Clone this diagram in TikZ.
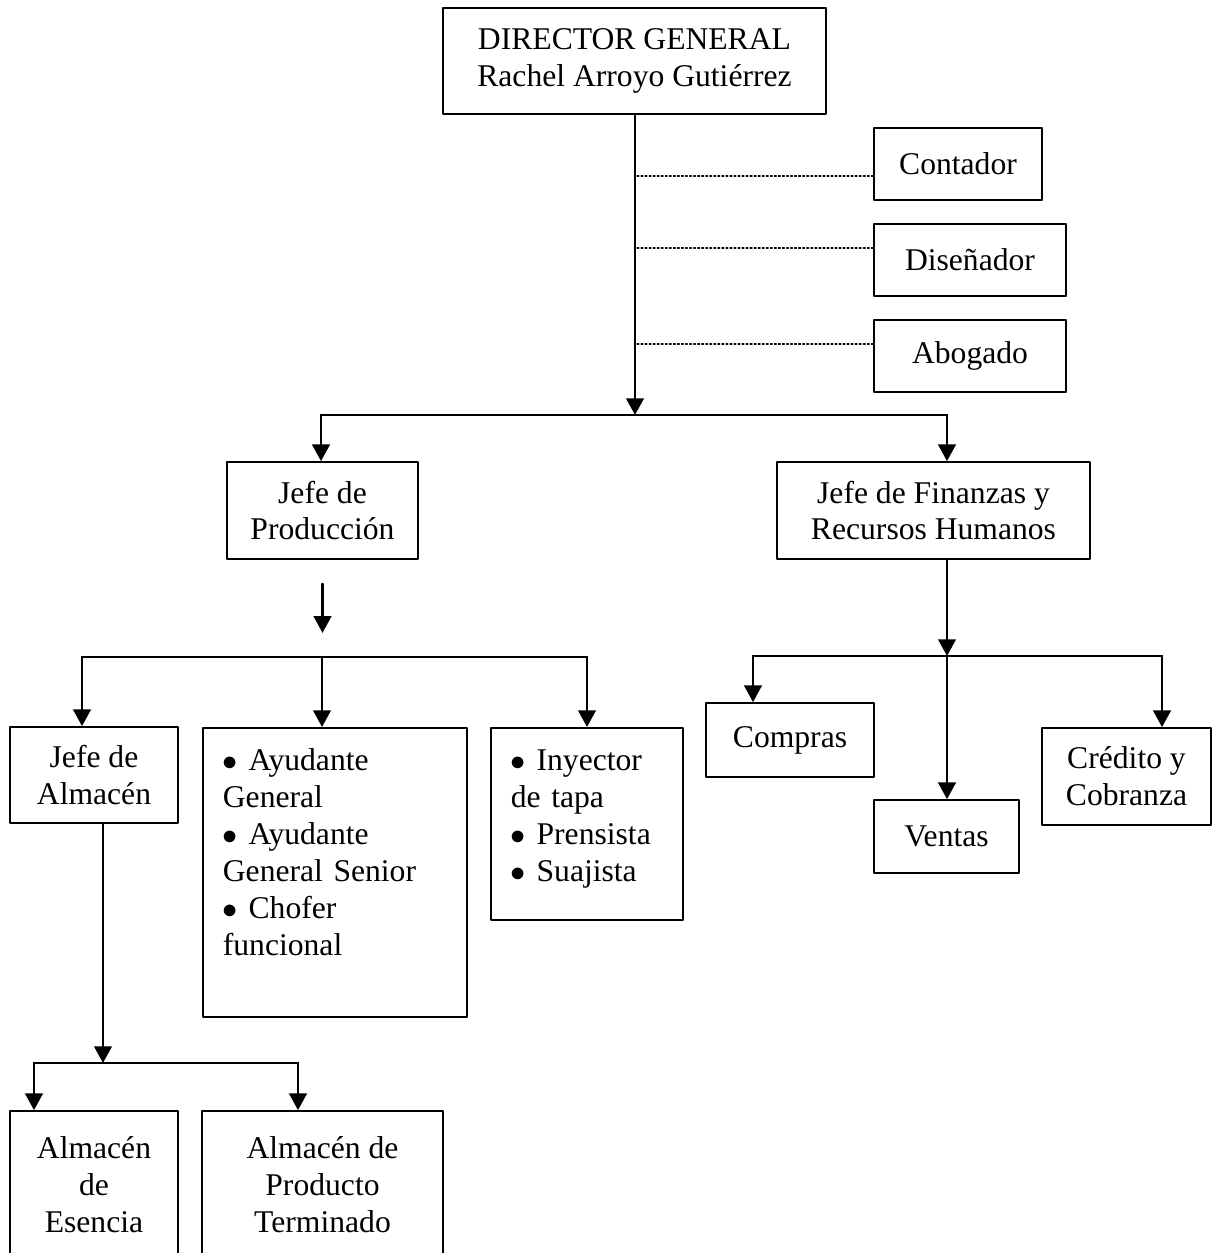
\documentclass[tikz,border=0pt]{standalone}
\usepackage{fontspec}
\setmainfont{Liberation Serif}
\usetikzlibrary{arrows.meta}
\begin{document}
\begin{tikzpicture}[x=0.02cm, y=-0.02cm, >={Triangle[width=10pt,length=9.5pt]},
  font=\fontsize{18}{21}\selectfont, line join=round, line cap=round,
  box/.style={draw, line width=1pt, align=center, inner sep=2pt},
  lin/.style={line width=1.4pt},
  dots/.style={line width=0.9pt, dash pattern=on 0.9pt off 1.4pt}]
\useasboundingbox (0,0) rectangle (1218,1253);
\clip (0,0) rectangle (1218,1253);
\node[box, minimum width=7.66cm, minimum height=2.12cm] (dir) at (634.5,61) {DIRECTOR GENERAL\\Rachel Arroyo Gutiérrez};
\node[box, minimum width=3.36cm, minimum height=1.44cm] (contador) at (958,164) {Contador};
\node[box, minimum width=3.84cm, minimum height=1.44cm] (disenador) at (970,260) {Diseñador};
\node[box, minimum width=3.84cm, minimum height=1.44cm] (abogado) at (970,356) {Abogado};
\node[box, minimum width=3.82cm, minimum height=1.94cm] (prod) at (322.5,510.5) {Jefe de\\Producción};
\node[box, minimum width=6.26cm, minimum height=1.94cm] (fin) at (933.5,510.5) {Jefe de Finanzas y\\Recursos Humanos};
\node[box, minimum width=3.36cm, minimum height=1.92cm] (alm) at (94,775) {Jefe de\\Almacén};
\node[box, anchor=north west, align=left, text width=4.48cm, inner xsep=0.4cm, inner ysep=0pt, text height=0.86cm, text depth=4.92cm] (ayud) at (202,727) {$\bullet$ Ayudante\\General\\$\bullet$ Ayudante\\General Senior\\$\bullet$ Chofer\\funcional};
\node[box, anchor=north west, align=left, text width=3.04cm, inner xsep=0.4cm, inner ysep=0pt, text height=0.86cm, text depth=2.98cm] (iny) at (490,727) {$\bullet$ Inyector\\de tapa\\$\bullet$ Prensista\\$\bullet$ Suajista};
\node[box, minimum width=3.36cm, minimum height=2.96cm] (esencia) at (94,1185) {Almacén\\de\\Esencia};
\node[box, minimum width=4.82cm, minimum height=2.96cm] (producto) at (322.5,1185) {Almacén de\\Producto\\Terminado};
\node[box, minimum width=3.36cm, minimum height=1.48cm] (compras) at (790,740) {Compras};
\node[box, minimum width=2.90cm, minimum height=1.46cm] (ventas) at (946.5,836.5) {Ventas};
\node[box, minimum width=3.38cm, minimum height=1.94cm] (credito) at (1126.5,776.5) {Crédito y\\Cobranza};

\coordinate (dj) at (635,415);
\coordinate (djl) at (321,415);
\coordinate (djr) at (947,415);
\draw[lin,->] (dj |- dir.south) -- (dj);
\draw[lin] (djl) -- (djr);
\draw[lin,->] (djl) -- (djl |- prod.north);
\draw[lin,->] (djr) -- (djr |- fin.north);
\draw[dots] ([yshift=-0.24cm]contador.west) -- ++(-237,0);
\draw[dots] ([yshift=0.24cm]disenador.west) -- ++(-237,0);
\draw[dots] ([yshift=0.24cm]abogado.west) -- ++(-237,0);

\draw[lin,->] ([yshift=-0.48cm]prod.south) -- ++(0,49);
\coordinate (pb) at (322,657);
\coordinate (pbl) at (82,657);
\coordinate (pbr) at (587,657);
\draw[lin] (pbl) -- (pbr);
\draw[lin,->] (pbl) -- (pbl |- alm.north);
\draw[lin,->] (pb) -- (pb |- ayud.north);
\draw[lin,->] (pbr) -- (pbr |- iny.north);

\coordinate (aj) at (103,1063);
\coordinate (ajl) at (34,1063);
\coordinate (ajr) at (298,1063);
\draw[lin,->] (aj |- alm.south) -- (aj);
\draw[lin] (ajl) -- (ajr);
\draw[lin,->] (ajl) -- (ajl |- esencia.north);
\draw[lin,->] (ajr) -- (ajr |- producto.north);

\coordinate (fj) at (947,656);
\coordinate (fjl) at (753,656);
\coordinate (fjr) at (1162,656);
\draw[lin,->] (fj |- fin.south) -- (fj);
\draw[lin] (fjl) -- (fjr);
\draw[lin,->] (fjl) -- (fjl |- compras.north);
\draw[lin,->] (fj) -- (fj |- ventas.north);
\draw[lin,->] (fjr) -- (fjr |- credito.north);
\end{tikzpicture}
\end{document}
